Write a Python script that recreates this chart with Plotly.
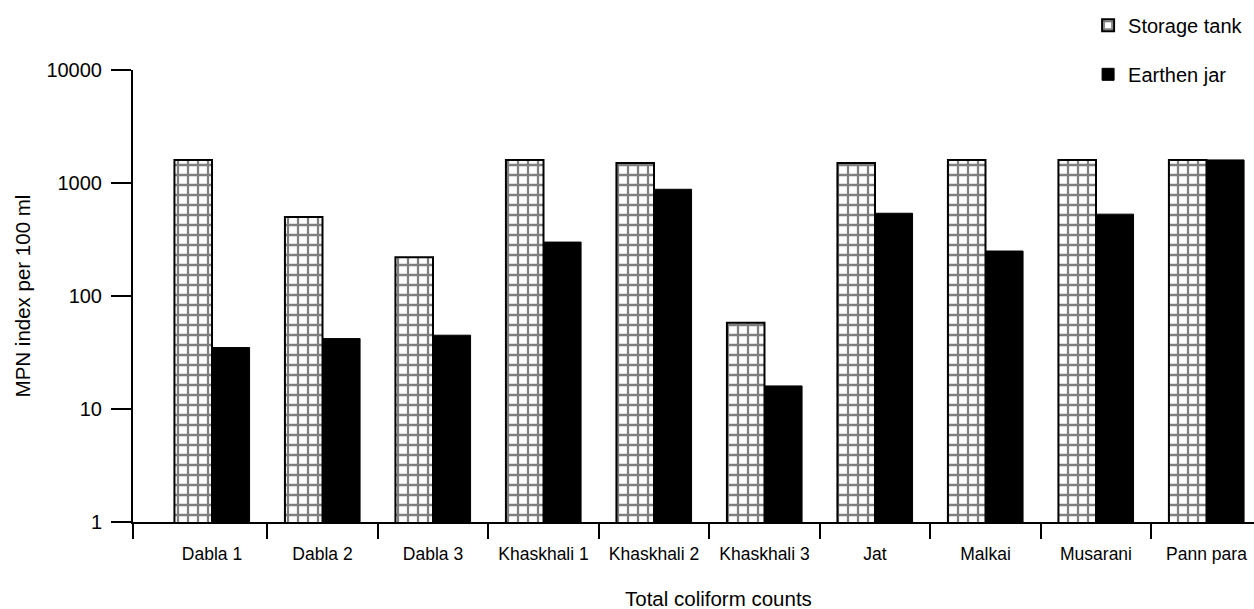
import plotly.graph_objects as go

sites = ["Dabla 1", "Dabla 2", "Dabla 3", "Khaskhali 1", "Khaskhali 2",
         "Khaskhali 3", "Jat", "Malkai", "Musarani", "Pann para"]
storage_tank = [1600, 500, 220, 1600, 1500, 58, 1500, 1600, 1600, 1600]
earthen_jar = [35, 42, 45, 300, 880, 16, 540, 250, 530, 1600]
y_ticks = [1, 10, 100, 1000, 10000]
x_title = "Total coliform counts"
y_title = "MPN index per 100 ml"

FONT = "Liberation Sans, Arial, sans-serif"
idx = list(range(len(sites)))
xr = [-0.715, 9.43]
boundaries = [xr[0]] + [i + 0.5 for i in range(len(sites) - 1)]

fig = go.Figure()
fig.add_trace(go.Bar(
    x=idx, y=storage_tank, name="Storage tank", legendgroup="a",
    marker=dict(color="white", line=dict(color="black", width=2),
                pattern=dict(shape="+", size=10, solidity=0.4,
                             fgcolor="black", bgcolor="white", fillmode="overlay")),
))
fig.add_trace(go.Bar(
    x=idx, y=earthen_jar, name="Earthen jar", legendgroup="b",
    marker=dict(color="black", line=dict(color="black", width=1)),
))
# invisible helper trace for boundary tick axis
fig.add_trace(go.Scatter(x=[xr[0]], y=[1], xaxis="x2", mode="markers",
                         marker=dict(opacity=0), showlegend=False, hoverinfo="skip"))

fig.update_layout(
    width=1254, height=609,
    margin=dict(l=133, r=0, t=70, b=87),
    paper_bgcolor="white", plot_bgcolor="white",
    font=dict(family=FONT, color="black"),
    barmode="group", bargap=0.32, bargroupgap=0,
    showlegend=True,
    legend=dict(x=0.852, y=1.142, xanchor="left", yanchor="top",
                font=dict(size=20, family=FONT), tracegroupgap=20,
                bgcolor="rgba(0,0,0,0)"),
    xaxis=dict(range=xr, tickmode="array", tickvals=idx, ticktext=sites,
               ticks="", showline=True, linecolor="black", linewidth=2,
               showgrid=False, zeroline=False, ticklabelstandoff=15,
               tickfont=dict(size=17.5, family=FONT)),
    xaxis2=dict(range=xr, overlaying="x", anchor="y", side="bottom",
                tickmode="array", tickvals=boundaries, ticks="outside",
                ticklen=16, tickwidth=2, tickcolor="black",
                showticklabels=False, showline=False, showgrid=False,
                zeroline=False),
    yaxis=dict(type="log", range=[0, 4], tickmode="array", tickvals=y_ticks,
               ticktext=[str(v) for v in y_ticks], ticks="outside", ticklen=20,
               tickwidth=2, tickcolor="black", showline=True, linecolor="black",
               linewidth=2, showgrid=False, zeroline=False,
               ticklabelstandoff=5, tickfont=dict(size=20, family=FONT),
               title=dict(text=y_title, font=dict(size=20.5, family=FONT),
                          standoff=10)),
    annotations=[dict(text=x_title, xref="paper", yref="paper",
                      x=(718 - 133) / 1121, y=-(598 - 522) / 452,
                      xanchor="center", yanchor="middle", showarrow=False,
                      font=dict(size=20.5, family=FONT))],
)

fig.write_html("out.html", config={"displayModeBar": False},
               post_script="document.body.style.margin='0';document.body.style.overflow='hidden';")
